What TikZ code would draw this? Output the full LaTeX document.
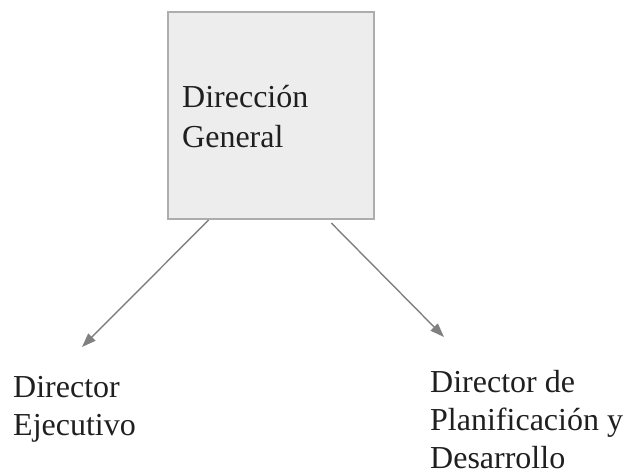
\documentclass[tikz,border=0pt]{standalone}
\usepackage{fontspec}
\setmainfont{Liberation Serif}
\usetikzlibrary{calc,arrows.meta}
\begin{document}
\begin{tikzpicture}[x=1pt,y=-1pt,
  orgbox/.style={draw=black!32, line width=2pt, fill=black!7, minimum width=206pt, minimum height=207pt, inner sep=0pt, anchor=north west},
  label/.style={align=left, inner sep=0pt, anchor=base west, text=black!88, font=\fontsize{32}{38}\selectfont},
  link/.style={draw=black!50, line width=1.4pt, -{Triangle[length=14pt,width=10pt]}}
]
\useasboundingbox (0,0) rectangle (630,475);
% top box
\node[orgbox] (box) at (167,11) {};
\node[label, font=\fontsize{32}{40}\selectfont] (boxtext) at (182,147) {Dirección\\General};
% subordinate labels (anchored at the baseline of their last line)
\node[label] (exec) at (13,435) {Director\\Ejecutivo};
\node[label] (plan) at (430,468) {Director de\\Planificación y\\Desarrollo};
% arrow end points
\coordinate (s1) at ($(box.south west)!0.2!(box.south east)$);
\coordinate (s2) at ($(box.south west)!0.79!(box.south east)+(0,3)$);
\coordinate (e1) at (82,347);
\coordinate (e2) at (444,337);
\draw[link] (s1) -- (e1);
\draw[link] (s2) -- (e2);
\end{tikzpicture}
\end{document}
